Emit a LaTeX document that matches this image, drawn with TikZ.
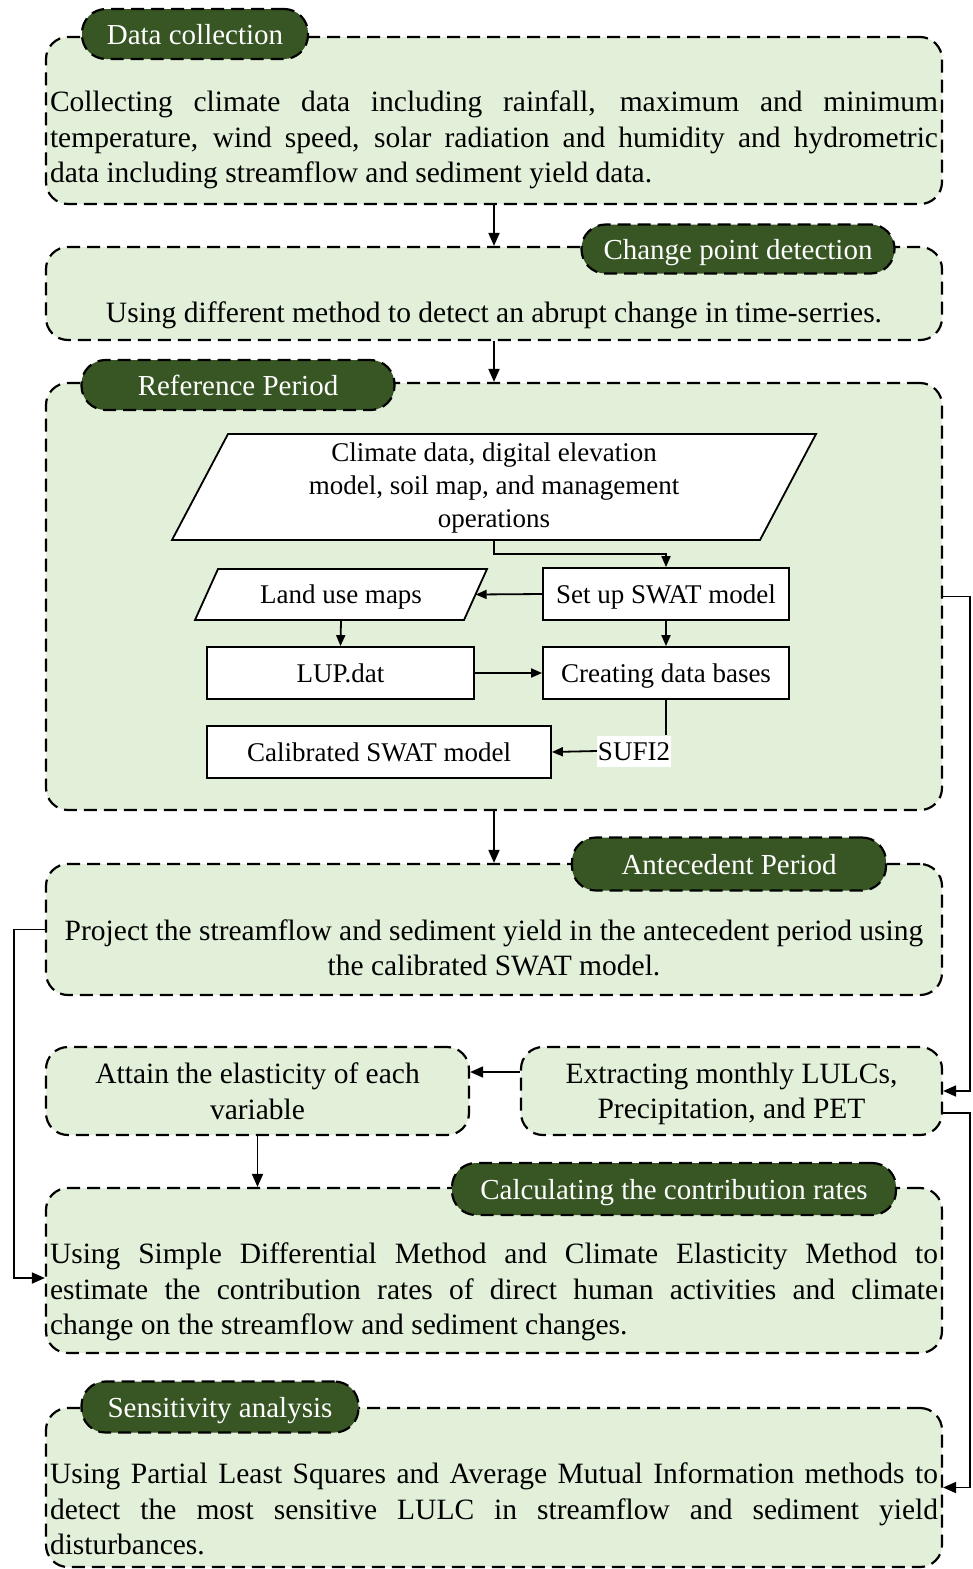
\documentclass[tikz,border=0pt]{standalone}
\usepackage{fontspec}
\setmainfont{Liberation Serif}
\usetikzlibrary{arrows.meta,calc}
\definecolor{lightg}{RGB}{226,239,217}
\definecolor{darkg}{RGB}{55,86,35}
\begin{document}
\begin{tikzpicture}[x=1pt,y=-1pt,
  bigbox/.style={draw=black, fill=lightg, line width=2.2pt, dash pattern=on 13pt off 7pt, rounded corners=22pt, inner sep=0pt},
  pill/.style={draw=black, fill=darkg, text=white, line width=2.2pt, dash pattern=on 13pt off 7pt, rounded corners=24pt, inner sep=0pt, text height=20pt, text depth=0pt, font=\fontsize{29}{34}\selectfont},
  body/.style={font=\fontsize{29.5}{35.5}\selectfont, inner sep=0pt},
  flowbox/.style={draw=black, fill=white, line width=1.8pt, inner sep=0pt, text height=18pt, text depth=0pt, font=\fontsize{27}{33}\selectfont},
  flowline/.style={draw=black, fill=white, line width=1.8pt},
  conn/.style={line width=1.8pt, -{Triangle[length=13pt,width=11pt]}},
  iconn/.style={line width=1.8pt, -{Triangle[length=11pt,width=9pt]}}
]
\useasboundingbox (0,0) rectangle (972,1569);

% big boxes
\node[bigbox, minimum width=896pt, minimum height=167pt] (b1) at (494,120.5) {};
\node[bigbox, minimum width=896pt, minimum height=93pt] (b2) at (494,293.5) {};
\node[bigbox, minimum width=896pt, minimum height=427pt] (b3) at (494,596.5) {};
\node[bigbox, minimum width=896pt, minimum height=131pt] (b4) at (494,929.5) {};
\node[bigbox, minimum width=423pt, minimum height=88pt] (b5) at (257.5,1091) {};
\node[bigbox, minimum width=421pt, minimum height=88pt] (b6) at (731.5,1091) {};
\node[bigbox, minimum width=896pt, minimum height=165pt] (b7) at (494,1270.5) {};
\node[bigbox, minimum width=896pt, minimum height=159pt] (b8) at (494,1487.5) {};

% pills
\node[pill, minimum width=226pt, minimum height=50pt] (p1) at (195,34) {Data collection};
\node[pill, minimum width=313pt, minimum height=49pt] (p2) at (738,249) {Change point detection};
\node[pill, minimum width=313pt, minimum height=50pt] (p3) at (238,385) {Reference Period};
\node[pill, minimum width=314pt, minimum height=53pt] (p4) at (729,864) {Antecedent Period};
\node[pill, minimum width=444pt, minimum height=52pt] (p5) at (674,1189) {Calculating the contribution rates};
\node[pill, minimum width=277pt, minimum height=51pt] (p6) at (220,1407) {Sensitivity analysis};

% body texts
\node[body, text width=888pt, align=justify] (t1) at (494,140) {Collecting climate data including rainfall, maximum and minimum\linebreak temperature, wind speed, solar radiation and humidity and hydrometric\linebreak data including streamflow and sediment yield data.};
\node[body] (t2) at (494,315) {Using different method to detect an abrupt change in time-serries.};
\node[body, align=center] (t4) at (494,948) {Project the streamflow and sediment yield in the antecedent period using\\the calibrated SWAT model.};
\node[body, align=center] (t5) at (257.5,1091) {Attain the elasticity of each\\variable};
\node[body, align=center] (t6) at (731.5,1094) {Extracting monthly LULCs,\\Precipitation, and PET};
\node[body, text width=888pt, align=justify] (t7) at (494,1292) {Using Simple Differential Method and Climate Elasticity Method to\linebreak estimate the contribution rates of direct human activities and climate\linebreak change on the streamflow and sediment changes.};
\node[body, text width=888pt, align=justify] (t8) at (494,1509) {Using Partial Least Squares and Average Mutual Information methods to\linebreak detect the most sensitive LULC in streamflow and sediment yield\linebreak disturbances.};

% inner flowchart
\path[flowline] (228,434) -- (816,434) -- (760,540) -- (172,540) -- cycle;
\node[inner sep=0pt, minimum width=644pt, minimum height=106pt, align=center, font=\fontsize{27}{33}\selectfont] (pa) at (494,488) {Climate data, digital elevation\\model, soil map, and management\\operations};
\path[flowline] (218,569) -- (487,569) -- (464,620) -- (195,620) -- cycle;
\node[inner sep=0pt, minimum width=292pt, minimum height=51pt, text height=18pt, text depth=0pt, font=\fontsize{27}{33}\selectfont] (lu) at (341,594.5) {Land use maps};
\node[flowbox, minimum width=246pt, minimum height=52pt] (swat) at (666,594) {Set up SWAT model};
\node[flowbox, minimum width=267pt, minimum height=52pt] (lup) at (340.5,673) {LUP.dat};
\node[flowbox, minimum width=246pt, minimum height=52pt] (cdb) at (666,673) {Creating data bases};
\node[flowbox, minimum width=344pt, minimum height=52pt] (cal) at (379,752) {Calibrated SWAT model};
\node[fill=white, inner sep=1pt, minimum height=31pt, text height=18pt, text depth=0pt, font=\fontsize{27}{33}\selectfont] (sufi) at (634,751) {SUFI2};

\draw[iconn] (pa.south) -- ++(0,13) -| (swat.north);
\draw[iconn] (swat.west) -- ($(lu.east)+(-11.5,0)$);
\draw[iconn] (lu.south) -- (lup.north);
\draw[iconn] (swat.south) -- (cdb.north);
\draw[iconn] (lup.east) -- (cdb.west);
\draw[line width=1.8pt] (cdb.south) -- (cdb.south |- sufi.north);
\draw[iconn] (sufi.west) -- (cal.east);

% connectors
\draw[conn] (b1.south) -- (b2.north);
\draw[conn] (b2.south) -- (b3.north);
\draw[conn] (b3.south) -- (b4.north);
\draw[conn] (b3.east) -- ++(27,0) |- (b6.east);
\draw[conn] ([yshift=-22pt]b6.east) -- ++(27,0) |- (b8.east);
\draw[conn] (b4.west) -- ++(-31,0) |- ([yshift=-7.5pt]b7.west);
\draw[conn] ([yshift=19pt]b6.west) -- ([yshift=19pt]b5.east);
\draw[conn] (b5.south) -- (b5.south |- b7.north);
\end{tikzpicture}
\end{document}
